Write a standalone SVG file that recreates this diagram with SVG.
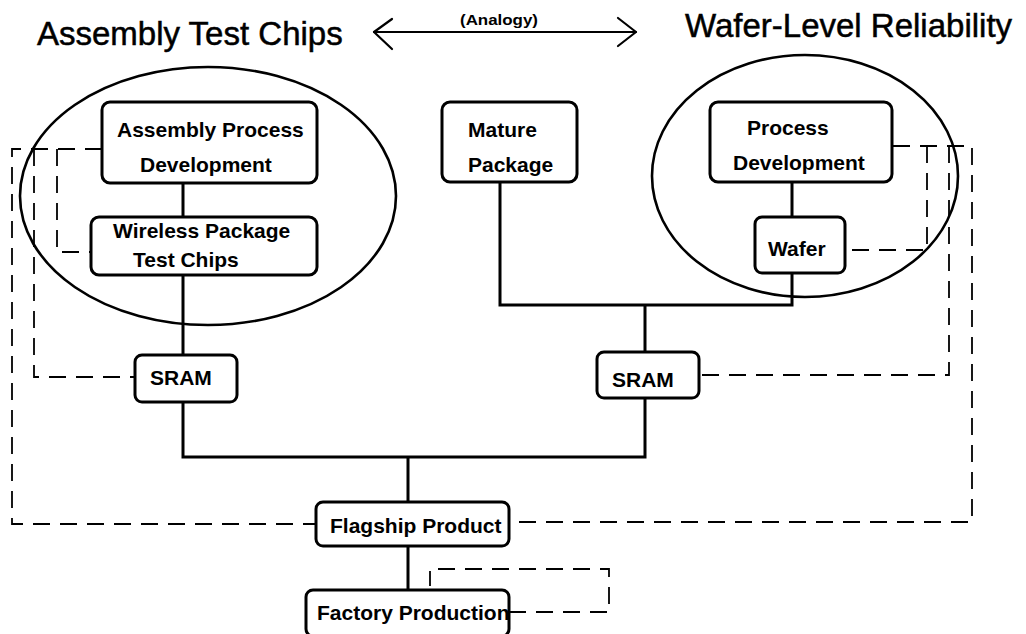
<svg xmlns="http://www.w3.org/2000/svg" width="1026" height="634" viewBox="0 0 1026 634">
  <style>
    .title { font-family: "Liberation Sans", Arial, sans-serif; font-size: 33px; fill: #000; stroke: #000; stroke-width: 0.5; }
    .small { font-family: "Liberation Sans", Arial, sans-serif; font-size: 15px; font-weight: bold; fill: #000; }
    .label { font-family: "Liberation Sans", Arial, sans-serif; font-size: 21px; font-weight: bold; fill: #000; }
    .box { fill: #fff; stroke: #000; stroke-width: 3; }
    .ring { fill: none; stroke: #000; stroke-width: 2.6; }
    .solid { fill: none; stroke: #000; stroke-width: 3; }
    .dash { fill: none; stroke: #000; stroke-width: 1.8; stroke-dasharray: 17 10; }
    .arrow { fill: none; stroke: #000; stroke-width: 2.2; stroke-linecap: round; stroke-linejoin: round; }
  </style>
  <rect width="1026" height="634" fill="#fff"/>

  <!-- headings and the analogy arrow -->
  <g id="headings">
    <text class="title" x="37" y="45">Assembly Test Chips</text>
    <text class="title" x="685" y="37">Wafer-Level Reliability</text>
    <text class="small" x="460" y="25" textLength="78" lengthAdjust="spacingAndGlyphs">(Analogy)</text>
    <line class="arrow" x1="374" y1="32" x2="636" y2="32"/>
    <polyline class="arrow" points="392,19 374,32 392,49"/>
    <polyline class="arrow" points="618,18 636,32 618,46"/>
  </g>

  <!-- grouping rings -->
  <g id="groups">
    <ellipse class="ring" cx="208" cy="196" rx="188" ry="129"/>
    <ellipse class="ring" cx="805" cy="176" rx="153" ry="121"/>
  </g>

  <!-- connectors -->
  <g id="connectors">
    <path class="solid" d="M183,183 V217 M183,275 V355 M183,402 V457 H645 V398 M645,352 V305 M500,182 V305 H792 V273 M792,182 V217 M408,457 V502 M408,546 V590"/>
    <path class="dash" d="M102,149 H12 V524 H316"/>
    <path class="dash" d="M34,149 V377 H135"/>
    <path class="dash" d="M57,149 V252 H91"/>
    <path class="dash" d="M893,146 H972 V522 H509"/>
    <path class="dash" d="M927,146 V250 H845"/>
    <path class="dash" d="M949,146 V375 H699"/>
    <path class="dash" d="M509,612 H609 V569 H430 V586"/>
  </g>

  <!-- nodes -->
  <g id="assembly-process-development">
    <rect class="box" x="102" y="102" width="215" height="81" rx="8"/>
    <text class="label" x="117" y="137">Assembly Process</text>
    <text class="label" x="140" y="172">Development</text>
  </g>
  <g id="wireless-package-test-chips">
    <rect class="box" x="91" y="217" width="226" height="58" rx="8"/>
    <text class="label" x="113" y="238">Wireless Package</text>
    <text class="label" x="133" y="267">Test Chips</text>
  </g>
  <g id="sram-left">
    <rect class="box" x="135" y="355" width="102" height="47" rx="7"/>
    <text class="label" x="150" y="385">SRAM</text>
  </g>
  <g id="mature-package">
    <rect class="box" x="442" y="102" width="135" height="80" rx="8"/>
    <text class="label" x="468" y="137">Mature</text>
    <text class="label" x="468" y="172">Package</text>
  </g>
  <g id="process-development">
    <rect class="box" x="710" y="102" width="182" height="80" rx="8"/>
    <text class="label" x="747" y="135">Process</text>
    <text class="label" x="733" y="170">Development</text>
  </g>
  <g id="wafer">
    <rect class="box" x="755" y="217" width="90" height="56" rx="7"/>
    <text class="label" x="768" y="256">Wafer</text>
  </g>
  <g id="sram-right">
    <rect class="box" x="597" y="352" width="102" height="46" rx="7"/>
    <text class="label" x="612" y="387">SRAM</text>
  </g>
  <g id="flagship-product">
    <rect class="box" x="316" y="502" width="193" height="44" rx="7"/>
    <text class="label" x="330" y="533">Flagship Product</text>
  </g>
  <g id="factory-production">
    <rect class="box" x="306" y="590" width="203" height="46" rx="7"/>
    <text class="label" x="317" y="620">Factory Production</text>
  </g>
</svg>
